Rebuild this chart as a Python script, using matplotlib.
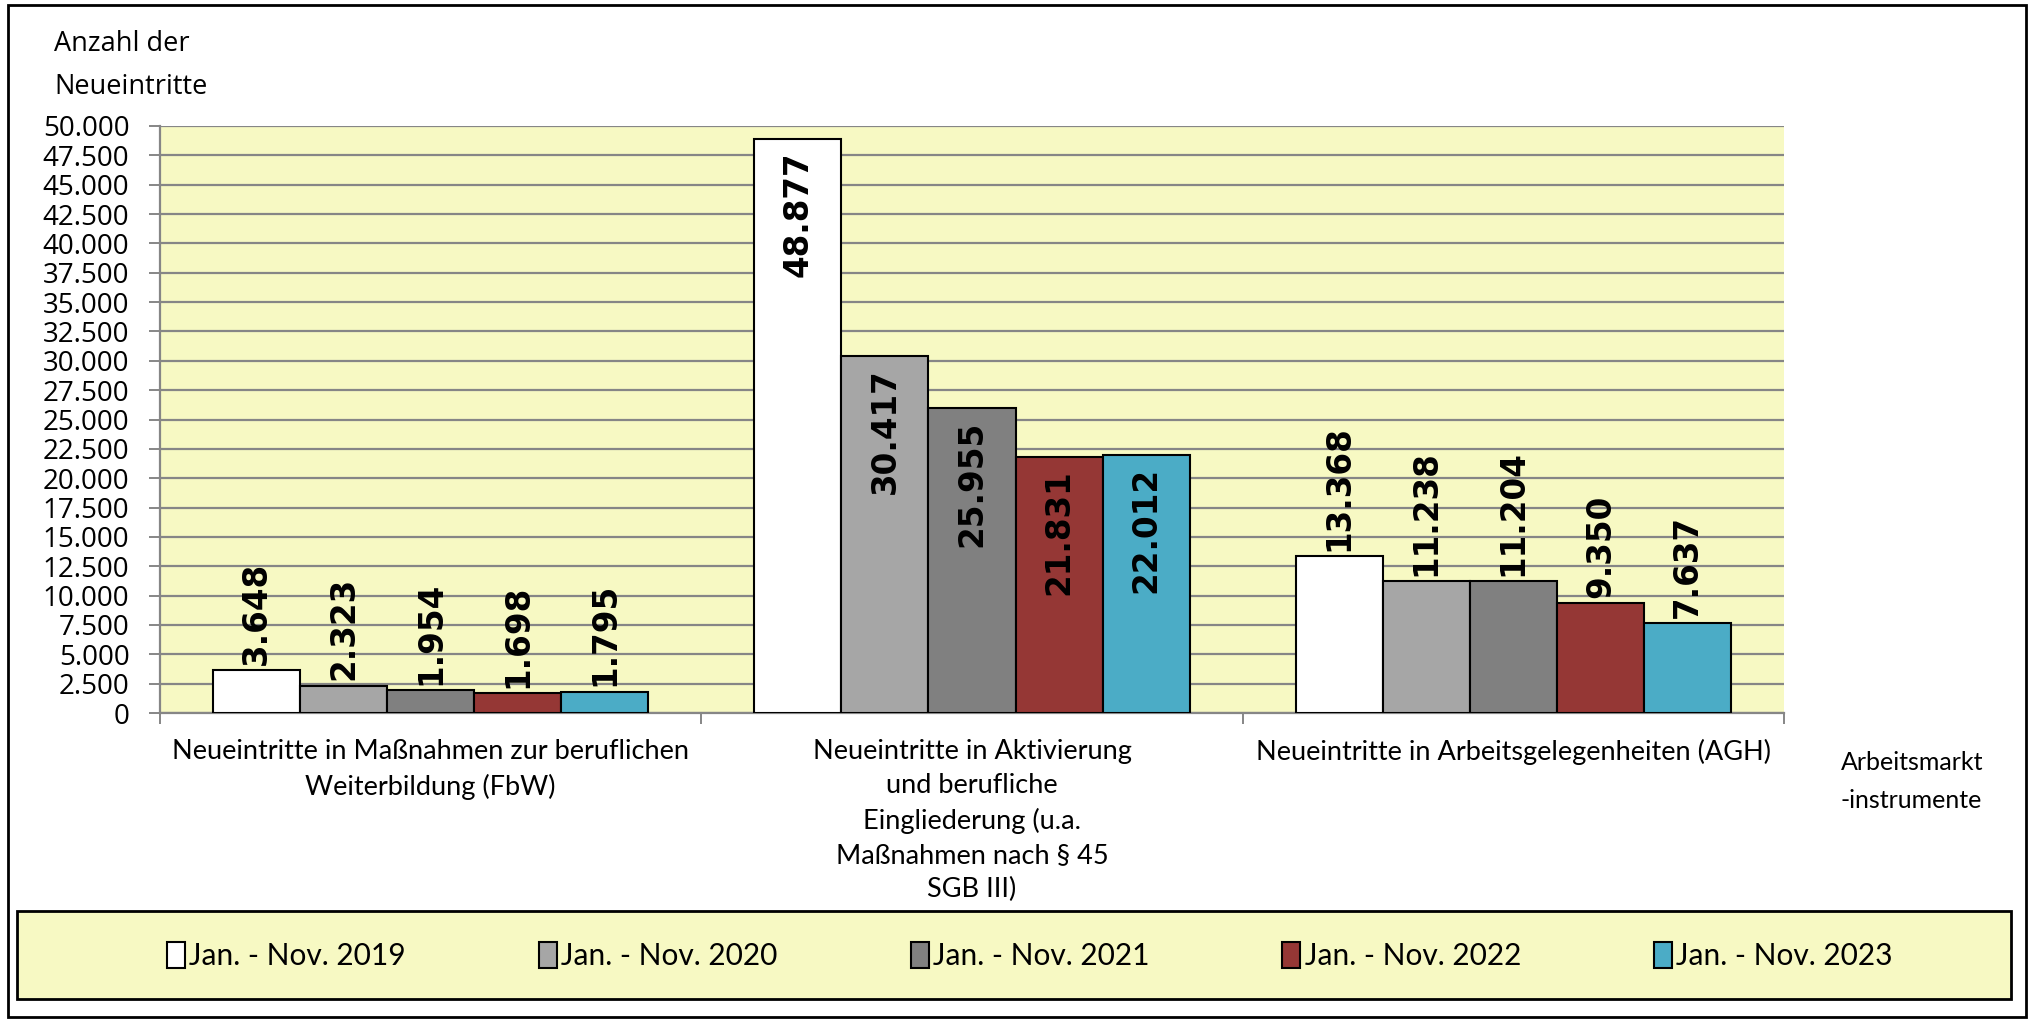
import matplotlib
matplotlib.use("Agg")
import matplotlib.pyplot as plt
from matplotlib.patches import Rectangle, Patch
import numpy as np

categories = [
    "Neueintritte in Maßnahmen zur beruflichen\nWeiterbildung (FbW)",
    "Neueintritte in Aktivierung\nund berufliche\nEingliederung (u.a.\nMaßnahmen nach § 45\nSGB III)",
    "Neueintritte in Arbeitsgelegenheiten (AGH)",
]
series_names = ["Jan. - Nov. 2019", "Jan. - Nov. 2020", "Jan. - Nov. 2021",
                "Jan. - Nov. 2022", "Jan. - Nov. 2023"]
v2019 = [3648, 48877, 13368]
v2020 = [2323, 30417, 11238]
v2021 = [1954, 25955, 11204]
v2022 = [1698, 21831, 9350]
v2023 = [1795, 22012, 7637]
series_values = [v2019, v2020, v2021, v2022, v2023]
colors = ["#FFFFFF", "#A6A6A6", "#808080", "#953735", "#4BACC6"]

yticks = np.arange(0, 50001, 2500)

def fmt(v):
    return f"{v:,.0f}".replace(",", ".")

W, H = 2033, 1019
fig = plt.figure(figsize=(W / 100, H / 100), dpi=100)
fig.patch.set_facecolor("white")

L, R, T, B = 160, 1784, 126, 713
ax = fig.add_axes([L / W, 1 - B / H, (R - L) / W, (B - T) / H])
ax.set_facecolor("#F7F9C3")

n = len(series_names)
group_w = 0.804
bw = group_w / n
x = np.arange(len(categories))
for i, (name, vals, col) in enumerate(zip(series_names, series_values, colors)):
    pos = x - group_w / 2 + bw * (i + 0.5)
    ax.bar(pos, vals, width=bw, color=col, edgecolor="black", linewidth=1.5,
           label=name, zorder=3)
    for xp, v in zip(pos, vals):
        if v > 20000:
            ax.annotate(fmt(v), (xp, v), xytext=(0, -9), textcoords="offset points",
                        rotation=90, ha="center", va="top", fontsize=23.5,
                        fontweight="bold", family="DejaVu Sans", zorder=4)
        else:
            ax.annotate(fmt(v), (xp, v), xytext=(0, 4), textcoords="offset points",
                        rotation=90, ha="center", va="bottom", fontsize=23.5,
                        fontweight="bold", family="DejaVu Sans", zorder=4)

ax.set_xlim(-0.5, len(categories) - 0.5)
ax.set_ylim(0, 50000)
ax.set_yticks(yticks)
ax.set_yticklabels([fmt(t) for t in yticks], family="Open Sans", fontsize=20)
ax.yaxis.grid(True, color="#868686", linewidth=1.6, zorder=1)
ax.set_axisbelow(True)
ax.tick_params(axis="y", length=8, width=1.4, color="#868686", pad=14)

# x axis: ticks at category boundaries, labels centered
ax.set_xticks(np.arange(len(categories) + 1) - 0.5)
ax.set_xticklabels([])
ax.set_xticks(x, minor=True)
ax.set_xticklabels(categories, minor=True, family="Lato", fontsize=19.5,
                   linespacing=1.45, va="top", ha="center")
ax.tick_params(axis="x", which="major", length=8, width=1.4, color="#868686")
ax.tick_params(axis="x", which="minor", length=0, pad=19)

for s in ["top", "right"]:
    ax.spines[s].set_visible(False)
for s in ["left", "bottom"]:
    ax.spines[s].set_color("#868686")
    ax.spines[s].set_linewidth(1.6)

# axis titles
fig.text(54 / W, 1 - 44 / H, "Anzahl der", family="Open Sans", fontsize=19.5,
         va="center", ha="left")
fig.text(54 / W, 1 - 87 / H, "Neueintritte", family="Open Sans", fontsize=19.5,
         va="center", ha="left")
fig.text(1841 / W, 1 - 762 / H, "Arbeitsmarkt", family="Lato", fontsize=18,
         va="center", ha="left")
fig.text(1841 / W, 1 - 801 / H, "-instrumente", family="Lato", fontsize=18,
         va="center", ha="left")

# legend box
lx0, lx1, ly0, ly1 = 17, 2011, 911, 999
fig.patches.append(Rectangle((lx0 / W, 1 - ly1 / H), (lx1 - lx0) / W, (ly1 - ly0) / H,
                             transform=fig.transFigure, facecolor="#F7F9C3",
                             edgecolor="black", linewidth=2, zorder=0))
handles = [Patch(facecolor=c, edgecolor="black", linewidth=1.5) for c in colors]
leg = fig.legend(handles, series_names, ncol=5, loc="center",
                 bbox_to_anchor=(1030 / W, 1 - 956 / H), frameon=False,
                 prop={"family": "Lato", "size": 21.5}, handlelength=0.6,
                 handleheight=1.0, handletextpad=0.15, columnspacing=4.45)

# outer frame
fig.patches.append(Rectangle((8 / W, 2 / H), (2026 - 8) / W, (1014 - 2) / H,
                             transform=fig.transFigure, facecolor="none",
                             edgecolor="black", linewidth=2, zorder=0))

fig.savefig("out.png", dpi=100)
